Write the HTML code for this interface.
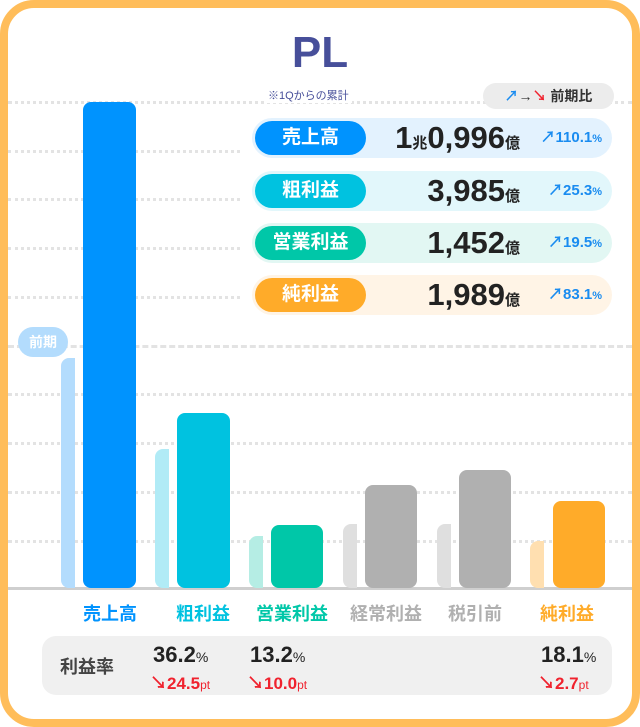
<!DOCTYPE html>
<html><head><meta charset="utf-8"><style>
*{margin:0;padding:0;box-sizing:border-box}
body{width:640px;height:727px;background:#fff;position:relative;overflow:hidden;font-family:"Liberation Sans","Noto Sans CJK JP",sans-serif}
.frame{position:absolute;left:0;top:0;width:640px;height:727px;border:8px solid #ffbd5a;border-radius:34px}
.a{position:absolute}
.grid{position:absolute;left:8px;width:624px;height:0;border-top:3px dotted #e3e3e3}
.bar{position:absolute;border-radius:8px}
.pv{position:absolute;border-radius:8px 0 0 8px}
.row{position:absolute;left:252px;width:360px;height:40px;border-radius:20px}
.pill{position:absolute;left:3px;top:3px;width:111px;height:34px;border-radius:17px;color:#fff;font-weight:bold;font-size:19px;text-align:center;line-height:34px}
.num{position:absolute;right:92px;top:0;font-weight:bold;font-size:31px;line-height:40px;color:#222}
.num small{font-size:15px}
.pct{position:absolute;right:10px;top:0;font-size:15px;font-weight:bold;color:#1a8cf0;line-height:40px}
.pct small{font-size:11px}
.lbl{position:absolute;top:600px;font-size:18px;font-weight:bold;width:90px;text-align:center}
.m{position:absolute;font-weight:bold;color:#222;font-size:22px}
.m small{font-size:14px;font-weight:normal}
.d{position:absolute;color:#f0222e;font-weight:bold;font-size:17px}
.d small{font-size:12px;font-weight:normal}
</style></head><body>
<div class="grid" style="top:101px"></div>
<div class="grid" style="top:150px;width:232px"></div>
<div class="grid" style="top:198px;width:232px"></div>
<div class="grid" style="top:247px;width:232px"></div>
<div class="grid" style="top:296px;width:232px"></div>
<div class="grid" style="top:345px;border-top:3px dashed #e3e3e3"></div>
<div class="grid" style="top:393px"></div>
<div class="grid" style="top:442px"></div>
<div class="grid" style="top:491px"></div>
<div class="grid" style="top:540px"></div>
<div class="a" style="left:8px;top:587px;width:624px;height:3px;background:#cfcfcf"></div>

<div class="pv" style="left:61px;top:358px;width:14px;height:230px;background:#b3dcfd"></div>
<div class="bar" style="left:83px;top:102px;width:53px;height:486px;background:#0093fe"></div>
<div class="pv" style="left:155px;top:449px;width:14px;height:139px;background:#b1ebf6"></div>
<div class="bar" style="left:177px;top:413px;width:53px;height:175px;background:#00c2e0"></div>
<div class="pv" style="left:249px;top:536px;width:14px;height:52px;background:#b5ede4"></div>
<div class="bar" style="left:271px;top:525px;width:52px;height:63px;background:#00c7a8"></div>
<div class="pv" style="left:343px;top:524px;width:14px;height:64px;background:#dfdfdf"></div>
<div class="bar" style="left:365px;top:485px;width:52px;height:103px;background:#b0b0b0"></div>
<div class="pv" style="left:437px;top:524px;width:14px;height:64px;background:#dfdfdf"></div>
<div class="bar" style="left:459px;top:470px;width:52px;height:118px;background:#b0b0b0"></div>
<div class="pv" style="left:530px;top:541px;width:14px;height:47px;background:#ffdfb0"></div>
<div class="bar" style="left:553px;top:501px;width:52px;height:87px;background:#ffab29"></div>

<div class="a" style="left:18px;top:327px;width:50px;height:30px;border-radius:15px;background:#b3dcfd;color:#fff;font-weight:bold;font-size:14px;text-align:center;line-height:30px">前期</div>

<div class="a" style="left:240px;top:28px;width:160px;text-align:center;font-size:44px;font-weight:bold;color:#474f9a">PL</div>
<div class="a" style="left:265px;top:87px;font-size:11px;color:#474f9a;background:#fff;padding:0 3px">※1Qからの累計</div>
<div class="a" style="left:483px;top:83px;width:131px;height:26px;border-radius:13px;background:#ececec;font-size:14px;line-height:26px;color:#333;text-align:center;font-weight:bold"><span style="color:#1a8cf0">↗</span>→<span style="color:#f0222e">↘</span> 前期比</div>

<div class="row" style="top:118px;background:#e3f2fe"><div class="pill" style="background:#0093fe">売上高</div><div class="num">1<small>兆</small>0,996<small>億</small></div><div class="pct">↗110.1<small>%</small></div></div>
<div class="row" style="top:171px;background:#e2f7fb"><div class="pill" style="background:#00c2e0">粗利益</div><div class="num">3,985<small>億</small></div><div class="pct">↗25.3<small>%</small></div></div>
<div class="row" style="top:223px;background:#e2f7f3"><div class="pill" style="background:#00c7a8">営業利益</div><div class="num">1,452<small>億</small></div><div class="pct">↗19.5<small>%</small></div></div>
<div class="row" style="top:275px;background:#fff4e6"><div class="pill" style="background:#ffab29">純利益</div><div class="num">1,989<small>億</small></div><div class="pct">↗83.1<small>%</small></div></div>

<div class="lbl" style="left:65px;color:#0093fe">売上高</div>
<div class="lbl" style="left:158px;color:#00c2e0">粗利益</div>
<div class="lbl" style="left:237px;width:110px;color:#00c7a8">営業利益</div>
<div class="lbl" style="left:331px;width:110px;color:#b0b0b0">経常利益</div>
<div class="lbl" style="left:430px;color:#b0b0b0">税引前</div>
<div class="lbl" style="left:522px;color:#ffab29">純利益</div>

<div class="a" style="left:42px;top:636px;width:570px;height:59px;border-radius:14px;background:#f0f0f0"></div>
<div class="a" style="left:60px;top:653px;font-size:18px;font-weight:bold;color:#444">利益率</div>
<div class="m" style="left:153px;top:642px">36.2<small>%</small></div>
<div class="d" style="left:150px;top:669px">↘24.5<small>pt</small></div>
<div class="m" style="left:250px;top:642px">13.2<small>%</small></div>
<div class="d" style="left:247px;top:669px">↘10.0<small>pt</small></div>
<div class="m" style="left:541px;top:642px">18.1<small>%</small></div>
<div class="d" style="left:538px;top:669px">↘2.7<small>pt</small></div>

<div class="frame"></div>
</body></html>
